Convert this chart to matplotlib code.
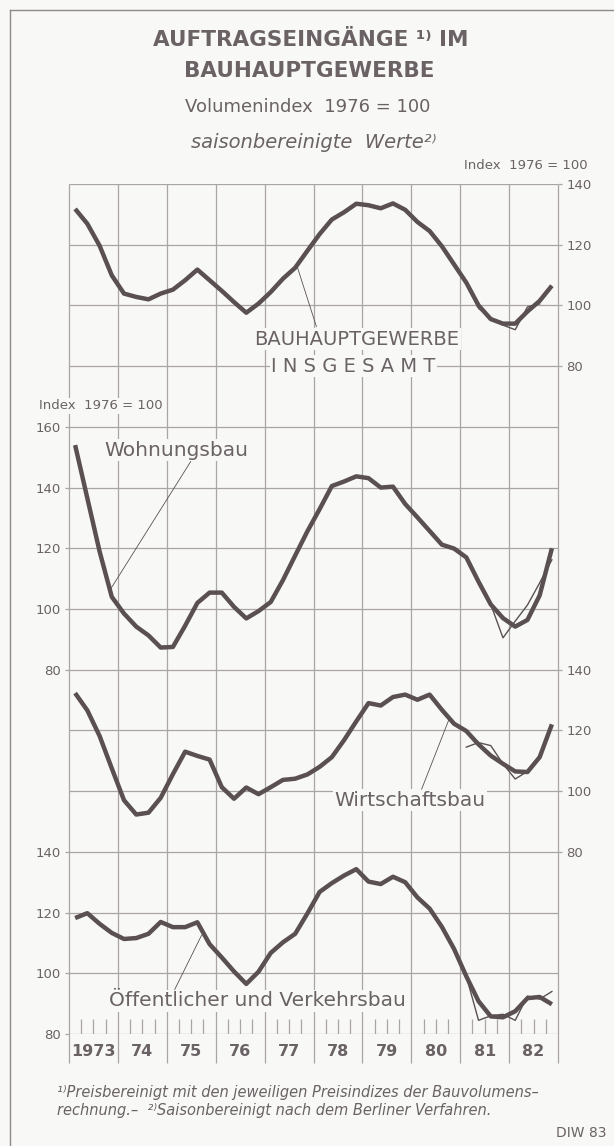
import matplotlib
matplotlib.use("Agg")
import matplotlib.pyplot as plt
from matplotlib.lines import Line2D
import numpy as np

# ---------------- data (quarterly, seasonally adjusted, 1976 = 100) ----------------
years = list(range(1973, 1983))
year_labels = ["1973", "74", "75", "76", "77", "78", "79", "80", "81", "82"]
quarters = np.array([y + (q - 0.5) / 4 for y in years for q in range(1, 5)])

insgesamt = [131.8, 126.9, 119.7, 109.9,
             103.9, 102.8, 102.0, 103.9,
             105.2, 108.3, 111.8, 108.3,
             104.8, 101.1, 97.6, 100.6,
             104.4, 108.8, 112.4, 118.0,
             123.5, 128.3, 130.7, 133.5,
             133.0, 132.0, 133.6, 131.5,
             127.5, 124.5, 119.5, 113.5,
             107.5, 100.0, 95.5, 94.0,
             94.0, 98.0, 101.5, 106.5]
insgesamt_prev = [107.5, 99.0, 96.0, 93.5, 92.0, 99.5, 100.5]
insgesamt_prev_start = 32

wohnungsbau = [154.0, 136.5, 119.0, 104.0,
               98.5, 94.2, 91.3, 87.3,
               87.5, 94.5, 102.0, 105.4,
               105.4, 100.7, 96.9, 99.3,
               102.3, 109.5, 117.6, 125.6,
               132.9, 140.5, 142.0, 143.7,
               143.1, 140.0, 140.3, 134.6,
               130.2, 125.7, 121.2, 119.9,
               117.0, 109.0, 101.5, 97.0,
               94.2, 96.4, 104.5, 120.0]
wohnungsbau_prev = [101.5, 90.5, 96.0, 101.3, 108.6, 116.2]
wohnungsbau_prev_start = 34

wirtschaftsbau = [132.3, 126.6, 118.2, 107.5,
                  97.0, 92.3, 92.9, 97.8,
                  105.6, 113.0, 111.6, 110.4,
                  101.3, 97.5, 101.2, 99.0,
                  101.3, 103.7, 104.1, 105.5,
                  108.0, 111.2, 116.8, 123.0,
                  129.0, 128.2, 131.0, 131.8,
                  130.1, 131.8, 126.8, 122.2,
                  119.8, 115.4, 111.7, 109.0,
                  106.5, 106.3, 111.2, 122.0]
wirtschaftsbau_prev = [114.5, 116.0, 115.0, 109.0, 104.0, 106.5]
wirtschaftsbau_prev_start = 32

oeffentlich = [118.2, 119.8, 116.3, 113.3,
               111.3, 111.6, 113.0, 116.9,
               115.2, 115.2, 116.8, 109.6,
               105.2, 100.6, 96.5, 100.5,
               106.7, 110.2, 113.0, 119.7,
               126.8, 129.7, 132.2, 134.3,
               130.2, 129.4, 131.8, 130.0,
               125.0, 121.3, 115.3, 108.0,
               99.0, 90.8, 85.8, 85.5,
               87.5, 91.8, 92.2, 89.8]
oeffentlich_prev = [99.0, 84.5, 86.0, 86.5, 84.5, 92.5, 91.5, 94.0]
oeffentlich_prev_start = 32

# ---------------- style ----------------
BG = "#f8f8f7"
LINE = "#5a5052"
GRID = "#a9a4a5"
TXT = "#6a6264"
FONT = "DejaVu Sans"
plt.rcParams["font.family"] = [FONT]

W, H = 614, 1146
L, R, T, B = 69, 558, 184, 1034
rect = [L / W, 1 - B / H, (R - L) / W, (B - T) / H]
NROWS = 14  # grid steps of 20 index points

fig = plt.figure(figsize=(W / 100, H / 100), dpi=100)
fig.patch.set_facecolor(BG)

# outer border (top and left)
fig.add_artist(Line2D([10 / W, 1], [1 - 10 / H, 1 - 10 / H], transform=fig.transFigure,
                      color="#8f898b", lw=1.0))
fig.add_artist(Line2D([10 / W, 10 / W], [0, 1 - 10 / H], transform=fig.transFigure,
                      color="#8f898b", lw=1.0))

# base grid axes
ax0 = fig.add_axes(rect)
ax0.set_facecolor(BG)
ax0.set_xlim(1973, 1983)
ax0.set_ylim(0, NROWS)
for s in ax0.spines.values():
    s.set_visible(False)
ax0.set_xticks([])
ax0.set_yticks([])
ax0.hlines(range(NROWS + 1), 1973, 1983, color=GRID, lw=0.9, zorder=1)
ax0.vlines(range(1973, 1984), -0.48, NROWS, color=GRID, lw=0.9, zorder=1, clip_on=False)
qt = [y + f for y in years for f in (0.25, 0.5, 0.75)]
ax0.vlines(qt, 0, 0.24, color=GRID, lw=0.9, zorder=1)
for y, lab in zip(years, year_labels):
    ax0.text(y + 0.5, -0.29, lab, ha="center", va="center", fontsize=11.5,
             fontweight="bold", color=TXT)


def overlay(base, side, ticks):
    ax = fig.add_axes(rect, sharex=ax0)
    ax.patch.set_visible(False)
    for s in ax.spines.values():
        s.set_visible(False)
    ax.set_ylim(80 - 20 * base, 80 + 20 * (NROWS - base))
    ax.set_yticks(ticks)
    ax.set_yticklabels([str(t) for t in ticks])
    ax.tick_params(axis="x", bottom=False, labelbottom=False)
    if side == "right":
        ax.yaxis.tick_right()
    ax.tick_params(axis="y", length=3, width=0.9, color=GRID, labelcolor=TXT,
                   labelsize=9.5, pad=3)
    return ax


def draw(ax, vals, prev, start):
    ax.plot(quarters, vals, color=LINE, lw=3.2, solid_joinstyle="round",
            solid_capstyle="butt", zorder=4)
    ax.plot(quarters[start:start + len(prev)], prev, color=LINE, lw=1.0, zorder=3)


def label(ax, x, y, s, size=14.5, **kw):
    ax.text(x, y, s, ha="center", va="center", fontsize=size, color=TXT, zorder=2,
            bbox=dict(boxstyle="square,pad=0.08", fc=BG, ec="none"), **kw)


def leader(ax, p1, p2):
    ax.annotate("", xy=p1, xytext=p2,
                arrowprops=dict(arrowstyle="-", color=LINE, lw=0.6, shrinkA=0, shrinkB=0),
                zorder=2)


ax_ins = overlay(11, "right", [80, 100, 120, 140])
ax_woh = overlay(6, "left", [80, 100, 120, 140, 160])
ax_wir = overlay(3, "right", [80, 100, 120, 140])
ax_oef = overlay(0, "left", [80, 100, 120, 140])

draw(ax_ins, insgesamt, insgesamt_prev, insgesamt_prev_start)
draw(ax_woh, wohnungsbau, wohnungsbau_prev, wohnungsbau_prev_start)
draw(ax_wir, wirtschaftsbau, wirtschaftsbau_prev, wirtschaftsbau_prev_start)
draw(ax_oef, oeffentlich, oeffentlich_prev, oeffentlich_prev_start)

# series labels with leader lines
label(ax_ins, 1978.88, 88.8, "BAUHAUPTGEWERBE", size=14)
label(ax_ins, 1978.82, 80.0, "I N S G E S A M T", size=14)
leader(ax_ins, (1977.67, 112.6), (1978.06, 93.0))

label(ax_woh, 1975.2, 152.3, "Wohnungsbau")
leader(ax_woh, (1973.84, 106.3), (1975.49, 148.6))

label(ax_wir, 1979.97, 97.0, "Wirtschaftsbau")
leader(ax_wir, (1980.77, 123.6), (1980.21, 100.6))

label(ax_oef, 1976.85, 90.9, "Öffentlicher und Verkehrsbau")
leader(ax_oef, (1975.71, 112.5), (1975.16, 94.6))

# titles and notes
fig.text(311 / W, 1 - 40 / H, "AUFTRAGSEINGÄNGE ¹⁾ IM", ha="center", va="center",
         fontsize=15.5, fontweight="bold", color=TXT)
fig.text(309 / W, 1 - 71 / H, "BAUHAUPTGEWERBE", ha="center", va="center",
         fontsize=15.5, fontweight="bold", color=TXT)
fig.text(308 / W, 1 - 107 / H, "Volumenindex  1976 = 100", ha="center", va="center",
         fontsize=13, color=TXT)
fig.text(314 / W, 1 - 142 / H, "saisonbereinigte  Werte²⁾", ha="center", va="center",
         fontsize=14, style="italic", color=TXT)
fig.text(588 / W, 1 - 166 / H, "Index  1976 = 100", ha="right", va="center",
         fontsize=9.5, color=TXT)
fig.text(39 / W, 1 - 406 / H, "Index  1976 = 100", ha="left", va="center",
         fontsize=9.5, color=TXT, zorder=5,
         bbox=dict(boxstyle="square,pad=0.1", fc=BG, ec="none"))
fig.text(57 / W, 1 - 1093 / H,
         "¹⁾Preisbereinigt mit den jeweiligen Preisindizes der Bauvolumens–",
         ha="left", va="center", fontsize=10.5, style="italic", color=TXT)
fig.text(57 / W, 1 - 1111 / H,
         "rechnung.–  ²⁾Saisonbereinigt nach dem Berliner Verfahren.",
         ha="left", va="center", fontsize=10.5, style="italic", color=TXT)
fig.text(607 / W, 1 - 1133 / H, "DIW 83", ha="right", va="center",
         fontsize=10, color=TXT)

fig.savefig("out.png", dpi=100, facecolor=BG)
